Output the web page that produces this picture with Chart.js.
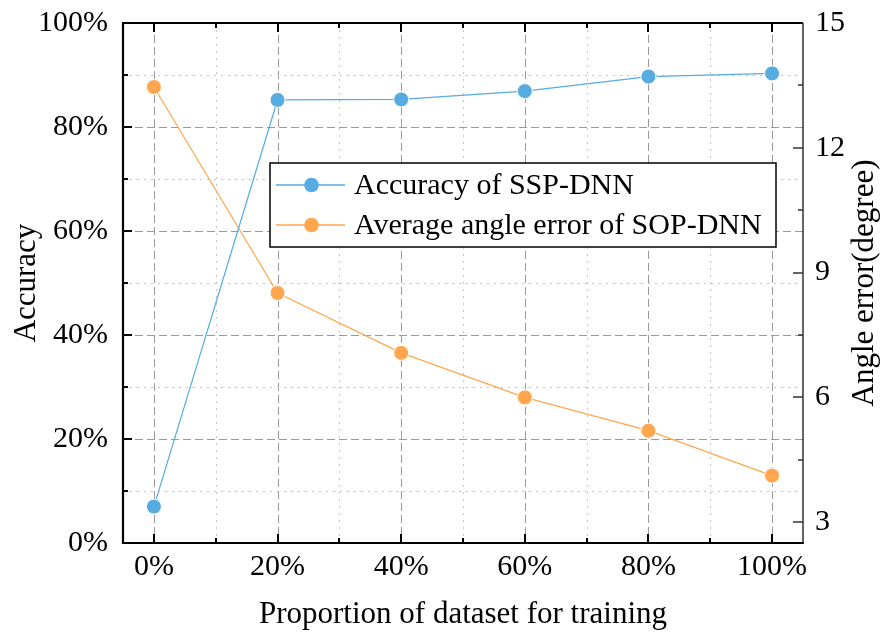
<!DOCTYPE html>
<html>
<head>
<meta charset="utf-8">
<script src="https://cdn.jsdelivr.net/npm/chart.js@4/dist/chart.umd.min.js"></script>
<style>
  html, body { margin: 0; padding: 0; background: #fff; }
  #wrap { width: 885px; height: 638px; position: relative; }
</style>
</head>
<body>
<div id="wrap"><canvas id="c"></canvas></div>
<script>
// Training proportion (%) on the x axis
const proportions = [0, 20, 40, 60, 80, 100];
// Classification accuracy of SSP-DNN (%)
const accuracy = [7.0, 85.2, 85.3, 86.9, 89.7, 90.3];
// Average angle error of SOP-DNN (degree)
const angleError = [13.46, 8.51, 7.07, 6.0, 5.2, 4.12];

// Tick label values
const xTicks = [0, 20, 40, 60, 80, 100];
const yTicks = [0, 20, 40, 60, 80, 100];
const y1Ticks = [3, 6, 9, 12, 15];

const FONT = "'Liberation Serif', 'Times New Roman', serif";
const BLUE = '#56ABE1';
const ORANGE = '#FFA64F';

Chart.defaults.font.family = FONT;
Chart.defaults.color = '#000';

function fixedTicks(values) {
  return function (scale) { scale.ticks = values.map(v => ({ value: v })); };
}
// fixed axis thickness, and no extra room reserved for overhanging labels
function fitSize(prop, size) {
  return function (s) {
    s[prop] = size;
    s.paddingTop = 0; s.paddingBottom = 0; s.paddingLeft = 0; s.paddingRight = 0;
  };
}

// Grid, frame, inward tick marks and axis titles
const framePlugin = {
  id: 'frame',
  beforeDatasetsDraw(chart) {
    const { ctx, chartArea: a, scales } = chart;
    const x = scales.x, y = scales.y;
    ctx.save();
    ctx.lineWidth = 1;
    for (let v = 0; v <= 100; v += 10) {
      const major = v % 20 === 0;
      ctx.strokeStyle = major ? '#9a9a9a' : '#c4c4c4';
      ctx.setLineDash(major ? [8, 4] : [2, 5]);
      const px = Math.round(x.getPixelForValue(v)) + 0.5;
      ctx.beginPath(); ctx.moveTo(px, a.top); ctx.lineTo(px, a.bottom); ctx.stroke();
      if (v > 0 && v < 100) {
        const py = Math.round(y.getPixelForValue(v)) + 0.5;
        ctx.beginPath(); ctx.moveTo(a.left, py); ctx.lineTo(a.right, py); ctx.stroke();
      }
    }
    ctx.restore();
  },
  afterDatasetsDraw(chart) {
    const { ctx, chartArea: a, scales } = chart;
    const x = scales.x, y = scales.y, y1 = scales.y1;
    ctx.save();
    ctx.setLineDash([]);
    // tick marks
    ctx.strokeStyle = '#000';
    ctx.lineWidth = 2;
    for (let v = 0; v <= 100; v += 10) {
      const len = v % 20 === 0 ? 9 : 5;
      const px = Math.round(x.getPixelForValue(v));
      ctx.beginPath();
      ctx.moveTo(px, a.bottom); ctx.lineTo(px, a.bottom - len);
      ctx.moveTo(px, a.top); ctx.lineTo(px, a.top + len);
      ctx.stroke();
      const py = Math.round(y.getPixelForValue(v));
      ctx.beginPath(); ctx.moveTo(a.left, py); ctx.lineTo(a.left + len, py); ctx.stroke();
    }
    ctx.strokeStyle = '#333';
    ctx.lineWidth = 1.5;
    for (let v = 3; v <= 15; v += 1.5) {
      const len = (v % 3 === 0) ? 10 : 5;
      const py = Math.round(y1.getPixelForValue(v));
      ctx.beginPath(); ctx.moveTo(a.right, py); ctx.lineTo(a.right - len, py); ctx.stroke();
    }
    // frame
    ctx.strokeStyle = '#333';
    ctx.lineWidth = 1.5;
    ctx.beginPath(); ctx.moveTo(a.right, a.top); ctx.lineTo(a.right, a.bottom); ctx.stroke();
    ctx.strokeStyle = '#000';
    ctx.lineWidth = 2.2;
    ctx.beginPath();
    ctx.moveTo(a.right, a.top); ctx.lineTo(a.left, a.top);
    ctx.lineTo(a.left, a.bottom); ctx.lineTo(a.right + 0.8, a.bottom);
    ctx.stroke();
    ctx.restore();

    // axis titles
    ctx.save();
    ctx.fillStyle = '#000';
    ctx.font = '31px ' + FONT;
    ctx.textAlign = 'center';
    ctx.textBaseline = 'middle';
    ctx.fillText('Proportion of dataset for training', (a.left + a.right) / 2, 615);
    ctx.translate(27, (a.top + a.bottom) / 2);
    ctx.rotate(-Math.PI / 2);
    ctx.fillText('Accuracy', 0, 0);
    ctx.restore();
    ctx.save();
    ctx.fillStyle = '#000';
    ctx.font = '31px ' + FONT;
    ctx.textAlign = 'center';
    ctx.textBaseline = 'middle';
    ctx.translate(865, (a.top + a.bottom) / 2);
    ctx.rotate(-Math.PI / 2);
    ctx.fillText('Angle error(degree)', 0, 0);
    ctx.restore();
  }
};

// Boxed legend inside the plot area
const boxLegend = {
  id: 'boxLegend',
  afterDraw(chart) {
    const { ctx } = chart;
    const bx = 270, by = 163, bw = 506, bh = 84;
    ctx.save();
    ctx.fillStyle = '#fff';
    ctx.fillRect(bx, by, bw, bh);
    ctx.strokeStyle = '#000';
    ctx.lineWidth = 1.5;
    ctx.strokeRect(bx, by, bw, bh);
    chart.data.datasets.forEach((ds, i) => {
      const cy = by + 22 + i * 40;
      ctx.strokeStyle = ds.borderColor;
      ctx.lineWidth = 1.5;
      ctx.beginPath(); ctx.moveTo(bx + 6, cy); ctx.lineTo(bx + 75, cy); ctx.stroke();
      ctx.fillStyle = ds.pointBackgroundColor;
      ctx.beginPath(); ctx.arc(bx + 41.5, cy, 7.3, 0, Math.PI * 2); ctx.fill();
      ctx.fillStyle = '#000';
      ctx.font = '30px ' + FONT;
      ctx.textAlign = 'left';
      ctx.textBaseline = 'middle';
      ctx.fillText(ds.label, bx + 84, cy + 1);
    });
    ctx.restore();
  }
};

new Chart(document.getElementById('c'), {
  type: 'line',
  data: {
    datasets: [
      {
        label: 'Accuracy of SSP-DNN',
        data: proportions.map((p, i) => ({ x: p, y: accuracy[i] })),
        yAxisID: 'y',
        borderColor: BLUE,
        backgroundColor: BLUE,
        pointBackgroundColor: BLUE,
        pointBorderColor: '#fff',
        pointBorderWidth: 1,
        borderWidth: 1.2,
        pointRadius: 7.5,
        tension: 0,
        clip: false
      },
      {
        label: 'Average angle error of SOP-DNN',
        data: proportions.map((p, i) => ({ x: p, y: angleError[i] })),
        yAxisID: 'y1',
        borderColor: ORANGE,
        backgroundColor: ORANGE,
        pointBackgroundColor: ORANGE,
        pointBorderColor: '#fff',
        pointBorderWidth: 1,
        borderWidth: 1.2,
        pointRadius: 7.5,
        tension: 0,
        clip: false
      }
    ]
  },
  options: {
    responsive: true,
    maintainAspectRatio: false,
    animation: false,
    layout: { padding: { top: 23, left: 0, right: 0, bottom: 0 } },
    plugins: { legend: { display: false }, tooltip: { enabled: false } },
    scales: {
      x: {
        type: 'linear',
        position: 'bottom',
        min: -5, max: 105,
        afterBuildTicks: fixedTicks(xTicks),
        afterFit: fitSize('height', 95),
        grid: { display: false, drawTicks: false },
        border: { display: false },
        ticks: { padding: 6, font: { size: 30 }, color: '#000', maxRotation: 0, callback: v => v + '%' }
      },
      y: {
        type: 'linear',
        position: 'left',
        min: 0, max: 100,
        afterBuildTicks: fixedTicks(yTicks),
        afterFit: fitSize('width', 123),
        grid: { display: false, drawTicks: false },
        border: { display: false },
        ticks: { padding: 15, font: { size: 30 }, color: '#000', callback: v => v + '%' }
      },
      y1: {
        type: 'linear',
        position: 'right',
        min: 2.5, max: 15,
        afterBuildTicks: fixedTicks(y1Ticks),
        afterFit: fitSize('width', 82),
        grid: { display: false, drawTicks: false },
        border: { display: false },
        ticks: { padding: 12, font: { size: 30 }, color: '#000' }
      }
    }
  },
  plugins: [framePlugin, boxLegend]
});
</script>
</body>
</html>
